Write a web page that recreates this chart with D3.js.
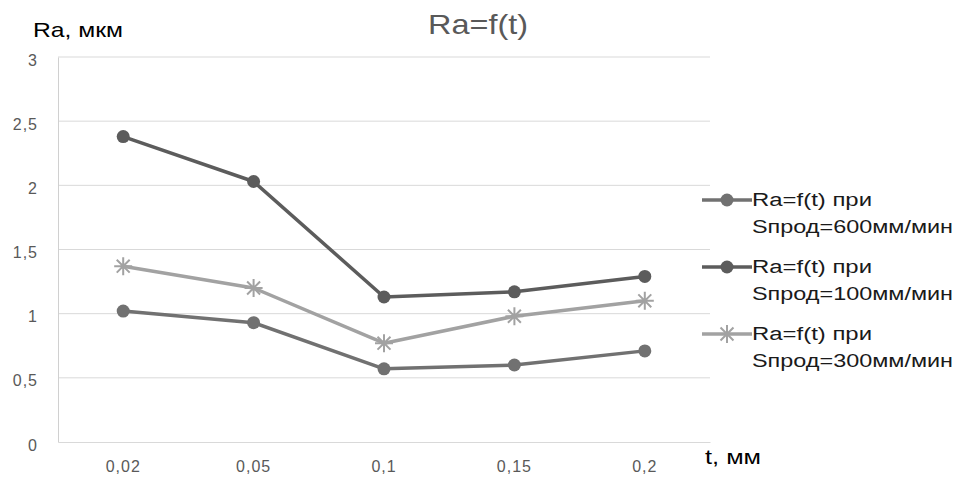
<!DOCTYPE html>
<html>
<head>
<meta charset="utf-8">
<script src="https://cdn.jsdelivr.net/npm/d3@7"></script>
<style>
  body { margin: 0; background: #fff; }
  svg { display: block; }
</style>
</head>
<body>
<svg id="chart" width="956" height="477"></svg>
<script>
// Depth of cut t, mm
const categories = ["0,02", "0,05", "0,1", "0,15", "0,2"];
// Roughness Ra, µm, for each feed rate
const ra600 = [1.02, 0.93, 0.57, 0.60, 0.71];
const ra100 = [2.38, 2.03, 1.13, 1.17, 1.29];
const ra300 = [1.37, 1.20, 0.77, 0.98, 1.10];
const seriesNames = [
  ["Ra=f(t) при", "Sпрод=600мм/мин"],
  ["Ra=f(t) при", "Sпрод=100мм/мин"],
  ["Ra=f(t) при", "Sпрод=300мм/мин"]
];
const yTicks = [0, 0.5, 1, 1.5, 2, 2.5, 3];
const yTickLabels = ["0", "0,5", "1", "1,5", "2", "2,5", "3"];

const series = [
  { values: ra600, name: seriesNames[0], color: "#717171", marker: "circle" },
  { values: ra100, name: seriesNames[1], color: "#5c5c5c", marker: "circle" },
  { values: ra300, name: seriesNames[2], color: "#a2a2a2", marker: "star" }
];

const svg = d3.select("#chart");
const font = "Liberation Sans, Arial, sans-serif";
const plot = { left: 58, right: 710, top: 57, bottom: 442 };

const x = d3.scaleBand().domain(categories).range([plot.left, plot.right]);
const y = d3.scaleLinear().domain([0, 3]).range([plot.bottom, plot.top]);

// Horizontal gridlines
svg.append("g")
  .selectAll("line")
  .data(yTicks.filter(d => d > 0))
  .join("line")
  .attr("x1", plot.left).attr("x2", plot.right)
  .attr("y1", d => y(d)).attr("y2", d => y(d))
  .attr("stroke", "#d9d9d9").attr("stroke-width", 1);

// Y axis
const yAxis = svg.append("g")
  .attr("transform", `translate(${plot.left},0)`)
  .call(d3.axisLeft(y).tickValues(yTicks).tickFormat((d, i) => yTickLabels[i]).tickSize(0).tickPadding(20))
  .attr("font-family", font).attr("font-size", 16);
yAxis.select(".domain").attr("stroke", "#d0d0d0");
yAxis.selectAll("text").attr("fill", "#595959").attr("dy", "0.5em")
  .style("letter-spacing", "1px");

// X axis
const xAxis = svg.append("g")
  .attr("transform", `translate(0,${plot.bottom})`)
  .call(d3.axisBottom(x).tickSize(0).tickPadding(19))
  .attr("font-family", font).attr("font-size", 16);
xAxis.select(".domain").attr("stroke", "#d9d9d9");
xAxis.selectAll("text").attr("fill", "#595959").style("letter-spacing", "1px");

// Titles
svg.append("text").attr("x", 428).attr("y", 34)
  .attr("font-family", font).attr("font-size", 28).attr("fill", "#595959")
  .attr("textLength", 100).attr("lengthAdjust", "spacingAndGlyphs").text("Ra=f(t)");
svg.append("text").attr("x", 33).attr("y", 37)
  .attr("font-family", font).attr("font-size", 21).attr("fill", "#000")
  .attr("textLength", 90).attr("lengthAdjust", "spacingAndGlyphs").text("Ra, мкм");
svg.append("text").attr("x", 705).attr("y", 464)
  .attr("font-family", font).attr("font-size", 20).attr("fill", "#000")
  .attr("textLength", 56).attr("lengthAdjust", "spacingAndGlyphs").text("t, мм");

const line = d3.line()
  .x((d, i) => x(categories[i]) + x.bandwidth() / 2)
  .y(d => y(d));

function drawMarker(g, cx, cy, s) {
  if (s.marker === "circle") {
    g.append("circle").attr("cx", cx).attr("cy", cy).attr("r", 6.5).attr("fill", s.color);
  } else {
    const r = 9;
    const star = d3.path();
    star.moveTo(cx - r, cy); star.lineTo(cx + r, cy);
    star.moveTo(cx, cy - r); star.lineTo(cx, cy + r);
    const k = r * 0.72;
    star.moveTo(cx - k, cy - k); star.lineTo(cx + k, cy + k);
    star.moveTo(cx - k, cy + k); star.lineTo(cx + k, cy - k);
    g.append("path").attr("d", star.toString()).attr("stroke", s.color)
      .attr("stroke-width", 2).attr("fill", "none");
  }
}

series.forEach(s => {
  const g = svg.append("g");
  g.append("path").datum(s.values).attr("d", line)
    .attr("fill", "none").attr("stroke", s.color).attr("stroke-width", 3.5)
    .attr("stroke-linejoin", "round");
  s.values.forEach((v, i) => drawMarker(g, x(categories[i]) + x.bandwidth() / 2, y(v), s));
});

// Legend
series.forEach((s, i) => {
  const ly = 200 + i * 67;
  const g = svg.append("g");
  g.append("line").attr("x1", 702).attr("x2", 752).attr("y1", ly).attr("y2", ly)
    .attr("stroke", s.color).attr("stroke-width", 3.5);
  drawMarker(g, 727, ly, s);
  g.append("text").attr("x", 752).attr("y", ly + 6)
    .attr("font-family", font).attr("font-size", 18).attr("fill", "#1a1a1a")
    .attr("textLength", 120).attr("lengthAdjust", "spacingAndGlyphs").text(s.name[0]);
  g.append("text").attr("x", 752).attr("y", ly + 33)
    .attr("font-family", font).attr("font-size", 18).attr("fill", "#1a1a1a")
    .attr("textLength", 201).attr("lengthAdjust", "spacingAndGlyphs").text(s.name[1]);
});
</script>
</body>
</html>
